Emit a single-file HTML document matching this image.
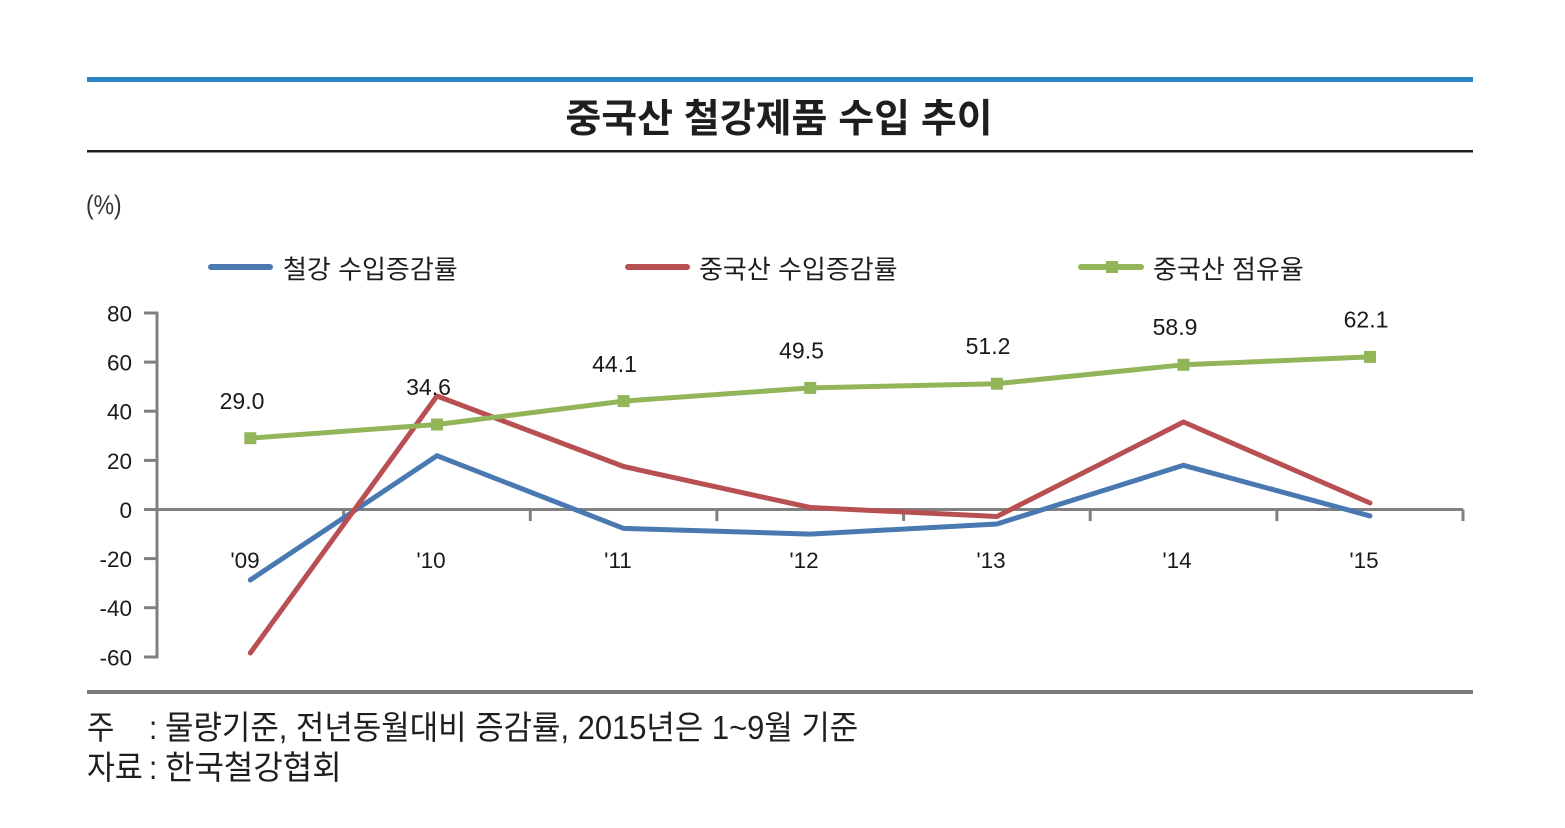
<!DOCTYPE html>
<html>
<head>
<meta charset="utf-8">
<style>
  html, body { margin:0; padding:0; background:#ffffff; }
  body { width:1565px; height:828px; overflow:hidden; }
  svg { display:block; }
  .k { font-family: "Liberation Sans", "Noto Sans CJK KR", sans-serif; }
  .n { font-family: "Liberation Sans", sans-serif; fill:#1a1a1a; }
</style>
</head>
<body>
<svg width="1565" height="828" viewBox="0 0 1565 828" xmlns="http://www.w3.org/2000/svg">
  <rect x="0" y="0" width="1565" height="828" fill="#ffffff"/>

  <!-- top blue rule -->
  <rect x="87" y="77" width="1386" height="5" fill="#2c86c6"/>
  <!-- title -->
  <text class="k" x="779" y="132" text-anchor="middle" font-size="39" font-weight="700" fill="#1e1e1e">중국산 철강제품 수입 추이</text>
  <!-- black rule -->
  <rect x="87" y="150" width="1386" height="2.5" fill="#1e1e1e"/>

  <!-- unit -->
  <text class="k" transform="translate(86,214) scale(0.85,1)" font-size="27" fill="#333">(%)</text>

  <!-- legend -->
  <line x1="211" y1="267" x2="270" y2="267" stroke="#4a79b2" stroke-width="6" stroke-linecap="round"/>
  <text class="k" x="283" y="278.5" font-size="26" fill="#1e1e1e">철강 수입증감률</text>
  <line x1="628" y1="267" x2="687" y2="267" stroke="#b84f52" stroke-width="6" stroke-linecap="round"/>
  <text class="k" x="699" y="278.5" font-size="26" fill="#1e1e1e">중국산 수입증감률</text>
  <line x1="1081" y1="267" x2="1141" y2="267" stroke="#93b55a" stroke-width="6" stroke-linecap="round"/>
  <rect x="1106" y="261" width="12" height="12" fill="#93b55a"/>
  <text class="k" x="1153" y="278.5" font-size="26" fill="#1e1e1e">중국산 점유율</text>

  <!-- y axis -->
  <g stroke="#808080" stroke-width="3">
    <line x1="157" y1="311.5" x2="157" y2="658.5"/>
    <line x1="144" y1="313" x2="157" y2="313"/>
    <line x1="144" y1="362.1" x2="157" y2="362.1"/>
    <line x1="144" y1="411.2" x2="157" y2="411.2"/>
    <line x1="144" y1="460.4" x2="157" y2="460.4"/>
    <line x1="144" y1="509.5" x2="157" y2="509.5"/>
    <line x1="144" y1="558.6" x2="157" y2="558.6"/>
    <line x1="144" y1="607.7" x2="157" y2="607.7"/>
    <line x1="144" y1="657" x2="157" y2="657"/>
    <!-- x axis -->
    <line x1="157" y1="509.5" x2="1463" y2="509.5"/>
    <line x1="343.6" y1="509.5" x2="343.6" y2="521"/>
    <line x1="530.3" y1="509.5" x2="530.3" y2="521"/>
    <line x1="716.9" y1="509.5" x2="716.9" y2="521"/>
    <line x1="903.6" y1="509.5" x2="903.6" y2="521"/>
    <line x1="1090.2" y1="509.5" x2="1090.2" y2="521"/>
    <line x1="1276.9" y1="509.5" x2="1276.9" y2="521"/>
    <line x1="1463" y1="509.5" x2="1463" y2="521"/>
  </g>

  <!-- y tick labels -->
  <g class="n" font-size="22.5" text-anchor="end">
    <text x="132" y="321.5">80</text>
    <text x="132" y="370.6">60</text>
    <text x="132" y="419.7">40</text>
    <text x="132" y="468.9">20</text>
    <text x="132" y="518">0</text>
    <text x="132" y="567.1">-20</text>
    <text x="132" y="616.2">-40</text>
    <text x="132" y="665.5">-60</text>
  </g>

  <!-- category labels -->
  <g class="n" font-size="22.5" text-anchor="middle">
    <text x="245" y="568">'09</text>
    <text x="431" y="568">'10</text>
    <text x="618" y="568">'11</text>
    <text x="804" y="568">'12</text>
    <text x="991" y="568">'13</text>
    <text x="1177" y="568">'14</text>
    <text x="1364" y="568">'15</text>
  </g>

  <!-- series: blue -->
  <polyline fill="none" stroke="#4a79b2" stroke-width="5" stroke-linejoin="round" stroke-linecap="round"
    points="250.3,580 437,455.7 623.6,528.4 810.2,534.1 996.9,524 1183.5,465.3 1370,515.9"/>
  <!-- series: red -->
  <polyline fill="none" stroke="#b84f52" stroke-width="5" stroke-linejoin="round" stroke-linecap="round"
    points="250.3,653 437,396 623.6,466.5 810.2,507.5 996.9,516.5 1183.5,422 1370,503"/>
  <!-- series: green -->
  <polyline fill="none" stroke="#93b55a" stroke-width="5" stroke-linejoin="round" stroke-linecap="round"
    points="250.3,438.2 437,424.5 623.6,401.1 810.2,387.9 996.9,383.7 1183.5,364.8 1370,356.9"/>
  <g fill="#93b55a">
    <rect x="244.3" y="432.2" width="12" height="12"/>
    <rect x="431" y="418.5" width="12" height="12"/>
    <rect x="617.6" y="395.1" width="12" height="12"/>
    <rect x="804.2" y="381.9" width="12" height="12"/>
    <rect x="990.9" y="377.7" width="12" height="12"/>
    <rect x="1177.5" y="358.8" width="12" height="12"/>
    <rect x="1364" y="350.9" width="12" height="12"/>
  </g>

  <!-- data labels -->
  <g class="n" font-size="23" text-anchor="middle">
    <text x="242" y="409">29.0</text>
    <text x="428.5" y="395">34.6</text>
    <text x="614.5" y="372">44.1</text>
    <text x="801.5" y="358.5">49.5</text>
    <text x="988" y="354">51.2</text>
    <text x="1175" y="335">58.9</text>
    <text x="1366" y="327.5">62.1</text>
  </g>

  <!-- bottom gray rule -->
  <rect x="87" y="690" width="1386" height="4" fill="#7a7a7a"/>

  <!-- footnotes -->
  <g class="k" font-size="33" fill="#1e1e1e">
    <text transform="translate(87,739) scale(0.9,1)">주</text>
    <text transform="translate(149,739) scale(0.9,1)">:</text>
    <text transform="translate(165,739) scale(0.937,1)">물량기준, 전년동월대비 증감률, 2015년은 1~9월 기준</text>
    <text transform="translate(87,779) scale(0.92,1)">자료</text>
    <text transform="translate(149,779) scale(0.9,1)">:</text>
    <text transform="translate(165,779) scale(0.97,1)">한국철강협회</text>
  </g>
</svg>
</body>
</html>
